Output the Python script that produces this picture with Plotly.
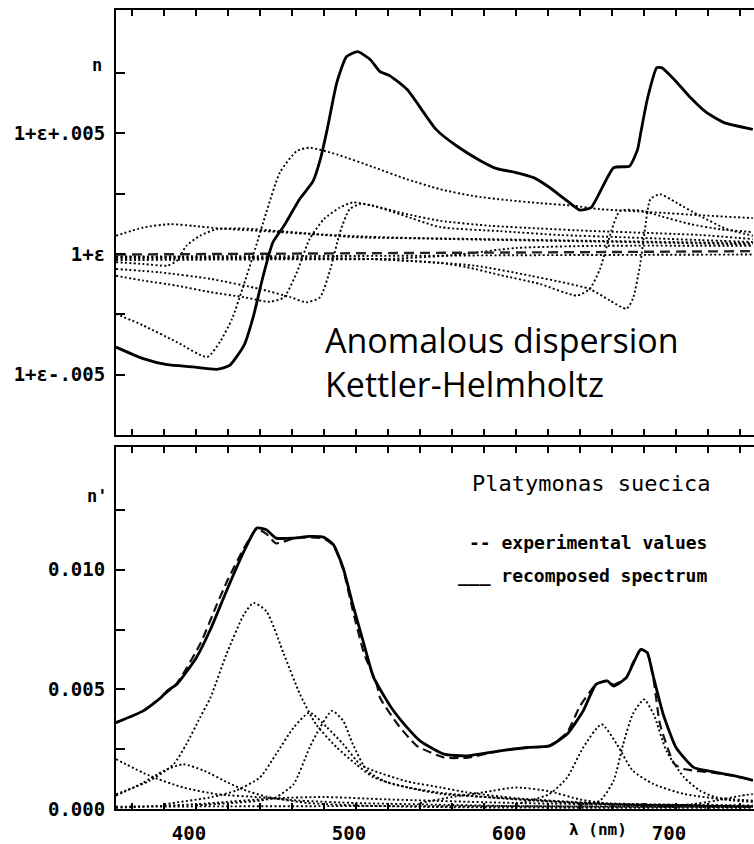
import plotly.graph_objects as go

# ---------------- data (wavelength in nm; values in units of 1e-3) ----------------
# Upper panel: refractive index n, offset from 1+eps (x 1e-3)
top_n_x = [350, 367, 382, 398, 413, 421, 430, 436, 442, 448, 455, 465, 473, 478, 482, 488, 494, 501, 509, 515,
           521, 532, 550, 563, 578, 588, 600, 611, 621, 632, 640, 647, 661, 671, 676, 678, 682, 688, 691, 699,
           709, 719, 730, 748]
top_n_y = [-3.86, -4.34, -4.59, -4.68, -4.78, -4.62, -3.79, -2.55, -0.90, 0.48, 1.17, 2.30, 3.00, 4.00, 5.17,
           7.11, 8.18, 8.39, 8.06, 7.56, 7.40, 6.82, 5.17, 4.48, 3.86, 3.54, 3.38, 3.17, 2.76, 2.20, 1.82, 1.93,
           3.58, 3.65, 4.34, 5.04, 6.40, 7.73, 7.73, 7.23, 6.49, 5.87, 5.45, 5.17]

top_ref_x = [350, 450, 550, 650, 748]
top_ref_y = [-0.02, 0.0, 0.05, 0.08, 0.12]

top_comp = {
    "A": ([350, 367, 388, 407, 415, 422.5, 429, 436, 444, 452.5, 463, 471, 488, 511, 532, 552.5, 573, 594, 615,
           636, 652.5, 684, 715, 748],
          [-2.48, -2.96, -3.65, -4.27, -3.64, -2.69, -1.45, 0.0, 1.74, 3.39, 4.27, 4.41, 4.13, 3.60, 3.10, 2.69,
           2.41, 2.24, 2.11, 2.0, 1.86, 1.74, 1.61, 1.49]),
    "B1": ([350, 367, 388, 409, 430, 446, 455, 463, 471, 480, 490, 498, 511, 532, 552.5, 584, 615, 646, 715, 748],
           [-0.90, -1.10, -1.31, -1.58, -1.79, -1.98, -1.79, -0.76, 0.62, 1.45, 1.93, 2.14, 2.0, 1.65, 1.38, 1.17,
            1.06, 0.96, 0.79, 0.62]),
    "B2": ([350, 377.5, 409, 440, 459, 469, 477.5, 484, 490, 496, 502.5, 509, 527.5, 552.5, 590, 627.5, 665, 715, 748],
           [-0.62, -0.76, -1.03, -1.45, -1.79, -2.0, -1.79, -0.62, 0.90, 1.86, 2.07, 2.03, 1.65, 1.12, 0.95, 0.79,
            0.70, 0.58, 0.50]),
    "C1": ([350, 367, 384, 398, 415, 440, 471, 502.5, 559, 646, 748],
           [0.76, 1.10, 1.24, 1.17, 1.06, 0.96, 0.83, 0.69, 0.64, 0.55, 0.45]),
    "C2": ([350, 367, 382, 388, 394, 402.5, 413, 430, 450, 475, 502.5, 560, 650, 748],
           [-0.34, -0.41, -0.48, -0.28, 0.34, 0.76, 1.03, 1.06, 0.96, 0.83, 0.73, 0.62, 0.52, 0.40]),
    "D1": ([350, 434, 511, 552.5, 569, 590, 615, 638, 646, 652.5, 659, 665, 679, 690, 709, 727.5, 748],
           [-0.17, -0.17, -0.21, -0.37, -0.54, -0.87, -1.24, -1.72, -1.45, -0.62, 0.83, 1.79, 1.79, 1.58, 1.24,
            1.03, 0.91]),
    "D2": ([350, 465, 511, 574, 609, 646, 659, 669, 673, 677.5, 680.6, 684, 690, 700, 715, 732, 748],
           [-0.12, -0.17, -0.21, -0.48, -0.90, -1.45, -1.94, -2.27, -1.86, -0.48, 1.03, 2.27, 2.48, 2.14, 1.58,
            1.03, 0.76]),
    "E1": ([350, 450, 520, 560, 600, 650, 748],
           [-0.25, -0.22, -0.20, -0.05, 0.25, 0.34, 0.34]),
    "E2": ([350, 500, 600, 748],
           [-0.10, -0.08, -0.05, -0.02]),
}

# Lower panel: n' (x 1e-3)
bot_rec_x = [350, 367, 378, 382, 388, 400, 409, 419, 430, 438, 444, 450, 461, 471, 480, 486, 492, 498, 505, 511,
             522, 532, 540, 555, 569, 590, 607, 621, 632, 642, 650, 657, 661, 669, 673, 678, 682, 686, 692, 700,
             711, 725, 736, 748]
bot_rec_y = [3.61, 4.10, 4.65, 4.93, 5.21, 6.30, 7.50, 9.10, 10.77, 11.74, 11.67, 11.32, 11.32, 11.39, 11.35,
             11.04, 10.07, 8.54, 6.88, 5.50, 4.24, 3.40, 2.85, 2.29, 2.22, 2.43, 2.57, 2.64, 3.13, 4.10, 5.21,
             5.35, 5.14, 5.49, 6.04, 6.67, 6.53, 5.49, 3.96, 2.57, 1.74, 1.53, 1.39, 1.20]

bot_exp_x = [350, 367, 388, 403, 413, 420, 430, 438, 444, 450, 461, 471, 480, 486, 492, 498, 505, 513, 515, 526,
             538, 555, 570, 590, 607, 621, 632, 640, 650, 657, 661, 669, 673, 678, 682, 686, 690, 699, 705, 712,
             725, 736, 748]
bot_exp_y = [3.61, 4.10, 5.25, 6.95, 8.54, 9.60, 10.90, 11.70, 11.50, 11.10, 11.30, 11.35, 11.30, 11.00, 10.00,
             8.30, 6.50, 5.21, 4.65, 3.54, 2.64, 2.15, 2.15, 2.43, 2.57, 2.64, 3.20, 4.30, 5.20, 5.35, 5.20, 5.50,
             6.10, 6.67, 6.55, 5.40, 3.54, 1.88, 1.67, 1.60, 1.50, 1.39, 1.20]

bot_comp = {
    "G_left": ([350, 371, 392, 413, 440, 465, 500, 550, 600, 650, 748],
               [2.08, 1.39, 0.90, 0.62, 0.49, 0.35, 0.25, 0.18, 0.12, 0.10, 0.08]),
    "G392": ([350, 367, 380, 392, 405, 420, 430, 445, 470, 500, 550, 650, 748],
             [0.56, 1.10, 1.60, 1.87, 1.60, 1.10, 0.80, 0.50, 0.25, 0.15, 0.08, 0.05, 0.05]),
    "G436": ([350, 371, 386, 394, 402.5, 409, 419, 430, 436, 444, 455, 465, 475, 488, 500, 511, 532, 553, 584,
              615, 657, 748],
             [0.62, 1.18, 1.87, 2.71, 3.82, 4.65, 6.46, 8.13, 8.61, 8.26, 6.46, 4.79, 3.54, 2.57, 1.87, 1.32, 0.90,
              0.63, 0.49, 0.35, 0.21, 0.15]),
    "G471": ([380, 410, 425, 440, 450, 461, 471, 482, 492, 502.5, 511, 532, 553, 569, 600, 650, 748],
             [0.20, 0.50, 0.77, 1.32, 2.29, 3.40, 4.03, 3.40, 2.71, 1.87, 1.60, 1.15, 0.90, 0.70, 0.45, 0.25, 0.12]),
    "G485": ([400, 440, 450, 461, 471, 477.5, 485, 492, 498, 507, 520, 550, 600, 650, 748],
             [0.15, 0.35, 0.49, 1.04, 2.57, 3.40, 4.10, 3.68, 2.71, 1.60, 1.10, 0.70, 0.40, 0.22, 0.10]),
    "G600": ([540, 560, 580, 600, 620, 640, 660, 700],
             [0.25, 0.50, 0.70, 0.90, 0.75, 0.40, 0.20, 0.08]),
    "G653": ([600, 621, 632, 642, 653.5, 663, 673, 686, 705, 736, 748],
             [0.20, 0.63, 1.32, 2.57, 3.54, 2.71, 1.60, 1.04, 0.63, 0.35, 0.30]),
    "G680": ([640, 652.5, 661, 667, 673, 680, 686, 694, 705, 715, 725, 748],
             [0.15, 0.35, 1.18, 2.71, 3.96, 4.58, 3.96, 2.43, 1.32, 0.77, 0.49, 0.35]),
    "G750": ([690, 710, 725, 740, 748],
             [0.12, 0.20, 0.35, 0.55, 0.62]),
    "L1": ([350, 400, 450, 480, 520, 600, 700, 748],
           [0.05, 0.20, 0.45, 0.50, 0.40, 0.25, 0.15, 0.10]),
    "L2": ([350, 500, 748],
           [0.10, 0.12, 0.10]),
}

x_ticks = list(range(360, 750, 20))
x_labels = {400: "400", 500: "500", 600: "600", 700: "700"}
top_ticks = [-5, -2.5, 0, 2.5, 5, 7.5]
top_labels = {-5: "1+ε-.005", 0: "1+ε", 5: "1+ε+.005"}
bot_ticks = [0, 2.5, 5, 7.5, 10, 12.5]
bot_labels = {0: "0.000", 5: "0.005", 10: "0.010"}

# ---------------- figure ----------------
MONO = "DejaVu Sans Mono"
fig = go.Figure()
dot = dict(color="black", width=1.9, dash="2px,2.4px")

for name, (xs, ys) in top_comp.items():
    fig.add_trace(go.Scatter(x=xs, y=ys, mode="lines", line=dict(shape="spline", smoothing=0.6, **dot),
                             xaxis="x", yaxis="y", showlegend=False, hoverinfo="skip"))
fig.add_trace(go.Scatter(x=top_ref_x, y=top_ref_y, mode="lines",
                         line=dict(color="#222", width=2.4, dash="10px,6px"),
                         xaxis="x", yaxis="y", showlegend=False))
fig.add_trace(go.Scatter(x=top_n_x, y=top_n_y, mode="lines",
                         line=dict(color="black", width=2.8, shape="spline", smoothing=0.5),
                         xaxis="x", yaxis="y", showlegend=False))

for name, (xs, ys) in bot_comp.items():
    fig.add_trace(go.Scatter(x=xs, y=ys, mode="lines", line=dict(shape="spline", smoothing=0.6, **dot),
                             xaxis="x2", yaxis="y2", showlegend=False, hoverinfo="skip"))
fig.add_trace(go.Scatter(x=bot_exp_x, y=bot_exp_y, mode="lines",
                         line=dict(color="#111", width=2.2, dash="9px,5px", shape="spline", smoothing=0.5),
                         xaxis="x2", yaxis="y2", showlegend=False))
fig.add_trace(go.Scatter(x=bot_rec_x, y=bot_rec_y, mode="lines",
                         line=dict(color="black", width=2.8, shape="spline", smoothing=0.5),
                         xaxis="x2", yaxis="y2", showlegend=False))

XR = [350, 748.75]
TOP_R = [-7.52, 10.12]
BOT_R = [0, 15.11]
TOP_DOM = [0.4676, 1.0]
BOT_DOM = [0.0, 0.4526]

tickfont = dict(family=MONO, size=19, color="black", weight="bold")
xcommon = dict(range=XR, showline=True, linewidth=2, linecolor="black", mirror="ticks",
               ticks="inside", tickvals=x_ticks, ticklen=6, tickwidth=2, tickcolor="black",
               showgrid=False, zeroline=False, fixedrange=True)
fig.update_layout(
    xaxis=dict(domain=[0, 1], anchor="y", showticklabels=False, **xcommon),
    xaxis2=dict(domain=[0, 1], anchor="y2", showticklabels=True,
                ticktext=[x_labels.get(v, "") for v in x_ticks], tickfont=tickfont,
                ticklabelshift=-7, ticklabelstandoff=6, **xcommon),
    yaxis=dict(domain=TOP_DOM, anchor="x", range=TOP_R, showline=True, linewidth=2, linecolor="black",
               ticks="inside", tickvals=top_ticks, ticktext=[top_labels.get(v, "") for v in top_ticks],
               ticklen=9, tickwidth=2, tickcolor="black", tickfont=tickfont, ticklabelstandoff=5,
               showgrid=False, zeroline=False),
    yaxis2=dict(domain=BOT_DOM, anchor="x2", range=BOT_R, showline=True, linewidth=2, linecolor="black",
                ticks="inside", tickvals=bot_ticks, ticktext=[bot_labels.get(v, "") for v in bot_ticks],
                ticklen=9, tickwidth=2, tickcolor="black", tickfont=tickfont, ticklabelstandoff=5,
                showgrid=False, zeroline=False),
    yaxis3=dict(overlaying="y", anchor="x", side="right", range=TOP_R, showline=False, ticks="inside",
                tickvals=top_ticks, ticklen=10, tickwidth=2, tickcolor="black", showticklabels=False,
                showgrid=False, zeroline=False),
    yaxis4=dict(overlaying="y2", anchor="x2", side="right", range=BOT_R, showline=False, ticks="inside",
                tickvals=bot_ticks, ticklen=10, tickwidth=2, tickcolor="black", showticklabels=False,
                showgrid=False, zeroline=False),
    yaxis5=dict(overlaying="y", anchor="x", side="left", range=TOP_R, showline=False, ticks="outside",
                tickvals=[-5, 0, 5], ticklen=5, tickwidth=2, tickcolor="black", showticklabels=False,
                showgrid=False, zeroline=False),
    yaxis6=dict(overlaying="y2", anchor="x2", side="left", range=BOT_R, showline=False, ticks="outside",
                tickvals=[0, 5, 10], ticklen=5, tickwidth=2, tickcolor="black", showticklabels=False,
                showgrid=False, zeroline=False),
    width=754, height=844,
    margin=dict(l=116, r=0, t=10, b=32, pad=0),
    paper_bgcolor="white", plot_bgcolor="white",
    showlegend=False,
)

ann = []
ann.append(dict(text="n", x=-0.041, y=0.946, xref="paper", yref="paper", showarrow=False,
                font=dict(family=MONO, size=17, color="black", weight="bold")))
ann.append(dict(text="n'", x=-0.048, y=0.392, xref="paper", yref="paper", showarrow=False,
                font=dict(family=MONO, size=17, color="black", weight="bold")))
ann.append(dict(text="Anomalous dispersion<br>Kettler-Helmholtz", x=0.3245, y=0.5592,
                xref="paper", yref="paper", xanchor="left", yanchor="middle", align="left",
                showarrow=False, font=dict(family="Open Sans", size=34, color="black")))
ann.append(dict(text="Platymonas suecica", x=0.934, y=0.4077, xref="paper", yref="paper",
                xanchor="right", yanchor="middle", showarrow=False,
                font=dict(family=MONO, size=22, color="black")))
ann.append(dict(text="-- experimental values", x=0.929, y=0.333, xref="paper", yref="paper",
                xanchor="right", yanchor="middle", showarrow=False,
                font=dict(family=MONO, size=18, color="black", weight="bold")))
ann.append(dict(text="___ recomposed spectrum", x=0.929, y=0.292, xref="paper", yref="paper",
                xanchor="right", yanchor="middle", showarrow=False,
                font=dict(family=MONO, size=18, color="black", weight="bold")))
ann.append(dict(text="λ (nm)", x=651, y=-0.026, xref="x2", yref="paper",
                xanchor="center", yanchor="middle", showarrow=False,
                font=dict(family=MONO, size=16, color="black", weight="bold")))
fig.update_layout(annotations=ann)

fig.write_html("out.html", config={"displayModeBar": False},
               post_script="document.body.style.margin='0';document.body.style.padding='0';")
